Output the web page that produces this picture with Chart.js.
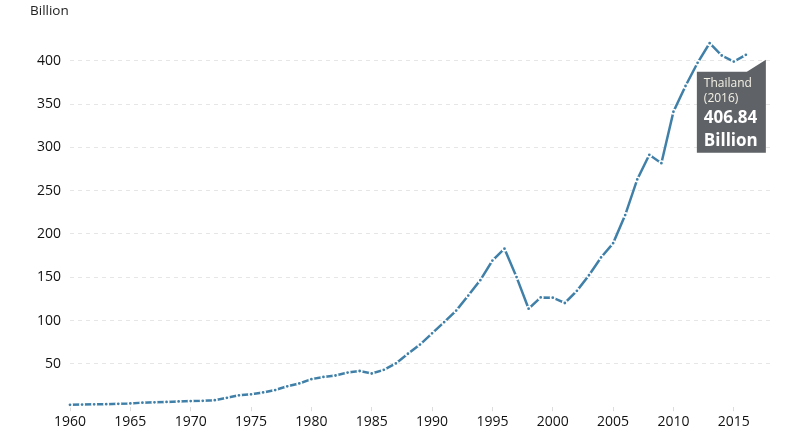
<!DOCTYPE html>
<html><head><meta charset="utf-8">
<script src="https://cdn.jsdelivr.net/npm/chart.js@4.4.1/dist/chart.umd.min.js"></script>
<style>html,body{margin:0;padding:0;background:#fff}#wrap{width:800px;height:435px}</style>
</head><body><div id="wrap"><canvas id="c" width="800" height="435"></canvas></div>
<script>
const years = [1960,1961,1962,1963,1964,1965,1966,1967,1968,1969,1970,1971,1972,1973,1974,1975,1976,1977,1978,1979,1980,1981,1982,1983,1984,1985,1986,1987,1988,1989,1990,1991,1992,1993,1994,1995,1996,1997,1998,1999,2000,2001,2002,2003,2004,2005,2006,2007,2008,2009,2010,2011,2012,2013,2014,2015,2016];
const gdpBillion = [2.76,3.03,3.31,3.54,3.89,4.39,5.28,5.64,6.08,6.69,7.09,7.36,8.12,10.88,13.7,14.9,17.0,19.8,24.1,27.4,32.4,34.9,36.6,40.0,41.8,38.9,43.1,50.5,61.7,72.3,85.3,98.2,111.5,128.9,146.7,169.3,183.0,150.2,113.7,126.7,126.4,120.3,134.3,152.3,172.9,189.3,221.8,262.9,291.4,281.7,341.1,370.8,397.6,420.3,406.0,399.0,406.84];
const xTicks = [1960,1965,1970,1975,1980,1985,1990,1995,2000,2005,2010,2015];
const yTicks = [50,100,150,200,250,300,350,400];
const country = "Thailand";
const unit = "Billion";

const lineColor = '#4080a8';
const FONT = '"Segoe UI","Open Sans","Noto Sans",sans-serif';

const overlay = {
  id: 'overlay',
  afterDatasetsDraw(chart) {
    const ctx = chart.ctx;
    ctx.save();
    ctx.fillStyle = '#222';
    ctx.font = '13.5px ' + FONT;
    ctx.textBaseline = 'middle';
    ctx.textAlign = 'left';
    ctx.fillText(unit, 30, 11);
    // tooltip for last point
    const i = years.length - 1;
    const px = chart.scales.x.getPixelForValue(years[i]);
    const py = chart.scales.y.getPixelForValue(gdpBillion[i]);
    const L = px - 49, R = px + 20, T = py + 17, B = py + 98;
    ctx.fillStyle = '#5f6367';
    ctx.beginPath();
    ctx.moveTo(L, T);
    ctx.lineTo(R - 19, T);
    ctx.lineTo(R, py + 5);
    ctx.lineTo(R, B);
    ctx.lineTo(L, B);
    ctx.closePath();
    ctx.fill();
    ctx.fillStyle = '#f4f1e6';
    ctx.font = '12px ' + FONT;
    ctx.fillText(country, L + 7, T + 12);
    ctx.fillText('(' + years[i] + ')', L + 7, T + 27);
    ctx.fillStyle = '#ffffff';
    ctx.font = 'bold 17px ' + FONT;
    ctx.fillText(gdpBillion[i].toFixed(2), L + 7, T + 46);
    ctx.fillText(unit, L + 7, T + 69);
    ctx.restore();
  }
};

new Chart(document.getElementById('c'), {
  type: 'line',
  data: {
    labels: years,
    datasets: [{
      data: years.map((y, k) => ({x: y, y: gdpBillion[k]})),
      borderColor: lineColor,
      borderWidth: 2.5,
      pointRadius: 2.2,
      pointBackgroundColor: lineColor,
      pointBorderColor: '#ffffff',
      pointBorderWidth: 1.6,
      tension: 0,
      clip: false
    }]
  },
  options: {
    responsive: false,
    animation: false,
    layout: {padding: {top: 16, right: 30, bottom: 3, left: 0}},
    plugins: {legend: {display: false}, tooltip: {enabled: false}},
    scales: {
      x: {
        type: 'linear', min: 1960, max: 2018,
        afterBuildTicks: s => { s.ticks = xTicks.map(v => ({value: v})); },
        ticks: {color: '#111', font: {family: FONT, size: 14}, padding: 2, maxRotation: 0, callback: v => String(v)},
        grid: {drawOnChartArea: false, color: '#dddddd', tickLength: 4},
        border: {display: false}
      },
      y: {
        min: 0, max: 450,
        afterBuildTicks: s => { s.ticks = yTicks.map(v => ({value: v})); },
        afterFit: s => { s.width = 70; },
        ticks: {color: '#111', font: {family: FONT, size: 14}, padding: 9},
        grid: {color: '#e6e6e6', drawTicks: false, lineWidth: 1},
        border: {display: false, dash: [4, 4]}
      }
    }
  },
  plugins: [overlay]
});
</script></body></html>
